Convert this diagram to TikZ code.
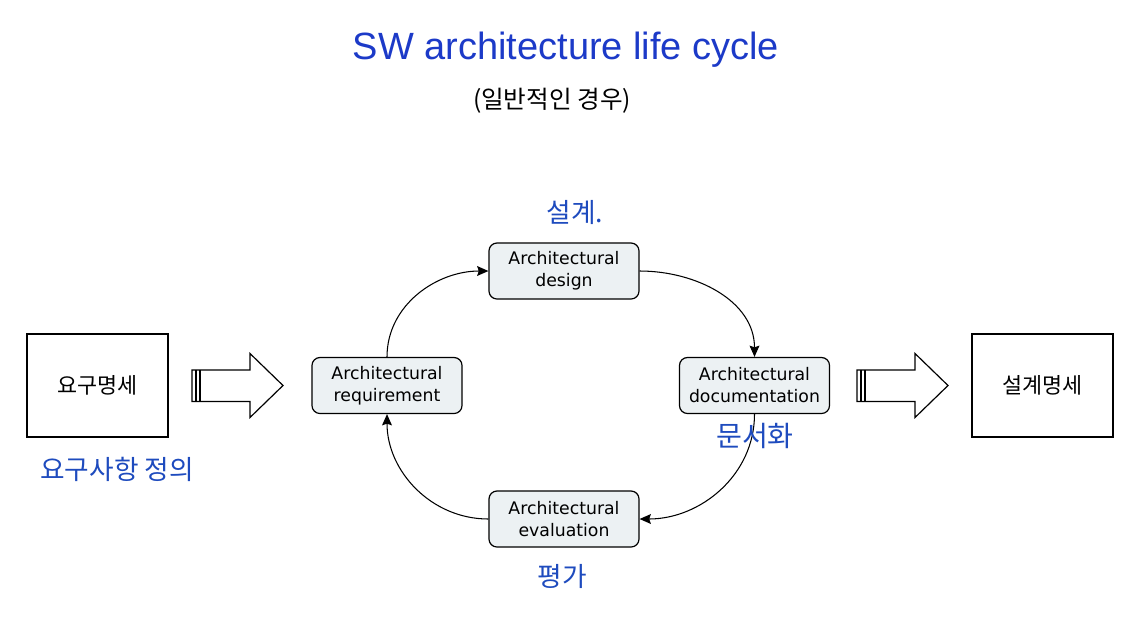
\documentclass[tikz,border=0pt]{standalone}
\usepackage{fontspec}
\setmainfont{Liberation Sans}
\newfontfamily\boxfont{DejaVu Sans}
\newfontfamily\krfont{Noto Sans CJK KR}
\usetikzlibrary{arrows.meta}
\definecolor{titleblue}{RGB}{28,58,200}
\definecolor{penblue}{RGB}{30,75,190}
\definecolor{stagefill}{RGB}{236,241,243}
\tikzset{
  stage/.style={
    draw,
    fill=stagefill,
    line width=0.85pt,
    rounded corners=0.2cm,
    minimum width=3.75cm,
    minimum height=1.4cm,
    align=center,
    font=\boxfont\fontsize{12.3}{15.6}\selectfont
  },
  specbox/.style={
    draw,
    line width=0.85pt,
    minimum width=3.52cm,
    minimum height=2.57cm,
    font=\krfont\fontsize{15.5}{17}\selectfont
  },
  cycle/.style={
    line width=0.75pt,
    -{Stealth[length=8pt,width=7pt,inset=1.2pt]}
  },
  pen/.style={
    text=penblue,
    font=\krfont\fontsize{19}{20}\selectfont
  }
}
\begin{document}
\begin{tikzpicture}[x=0.025cm,y=-0.025cm]
  \useasboundingbox (0,0) rectangle (1136,625);
  \node[text=titleblue,font=\fontsize{27}{30}\selectfont] (title) at (566,50) {SW architecture life cycle};
  \node[font=\krfont\fontsize{17.5}{18}\selectfont] (kind) at (552,101) {(일반적인 경우)};

  \node[specbox] (req spec) at (97.5,385.5) {요구명세};
  \node[specbox] (des spec) at (1042.5,385.5) {설계명세};

  \node[stage] (des) at (564,271) {Architectural\\design};
  \node[stage] (req) at (387,385.5) {Architectural\\requirement};
  \node[stage] (doc) at (754.5,385.5) {Architectural\\documentation};
  \node[stage] (eva) at (564,519) {Architectural\\evaluation};

  \draw[cycle] (req.north) to[out=90,in=180] (des.west);
  \draw[cycle] (des.east) to[out=0,in=90] (doc.north);
  \draw[cycle] (doc.south) to[out=-90,in=0] (eva.east);
  \draw[cycle] (eva.west) to[out=180,in=-90] (req.south);

  % block arrows
  \foreach \x in {192,857}{
    \draw[line width=0.85pt,fill=white] (\x,370) -- (\x+58,370) -- (\x+58,353.5) -- (\x+91,385.5)
      -- (\x+58,417.5) -- (\x+58,401.5) -- (\x,401.5) -- cycle;
    \draw[line width=0.85pt] (\x+4,370) -- (\x+4,401.5);
    \draw[line width=0.85pt] (\x+8,370) -- (\x+8,401.5);
  }

  \node[pen] (n des) at (575,212) {설계.};
  \node[pen] (n req) at (117,469) {요구사항 정의};
  \node[pen,font=\krfont\fontsize{20}{21}\selectfont] (n doc) at (755,436) {문서화};
  \node[pen] (n eva) at (562,576) {평가};
\end{tikzpicture}
\end{document}
